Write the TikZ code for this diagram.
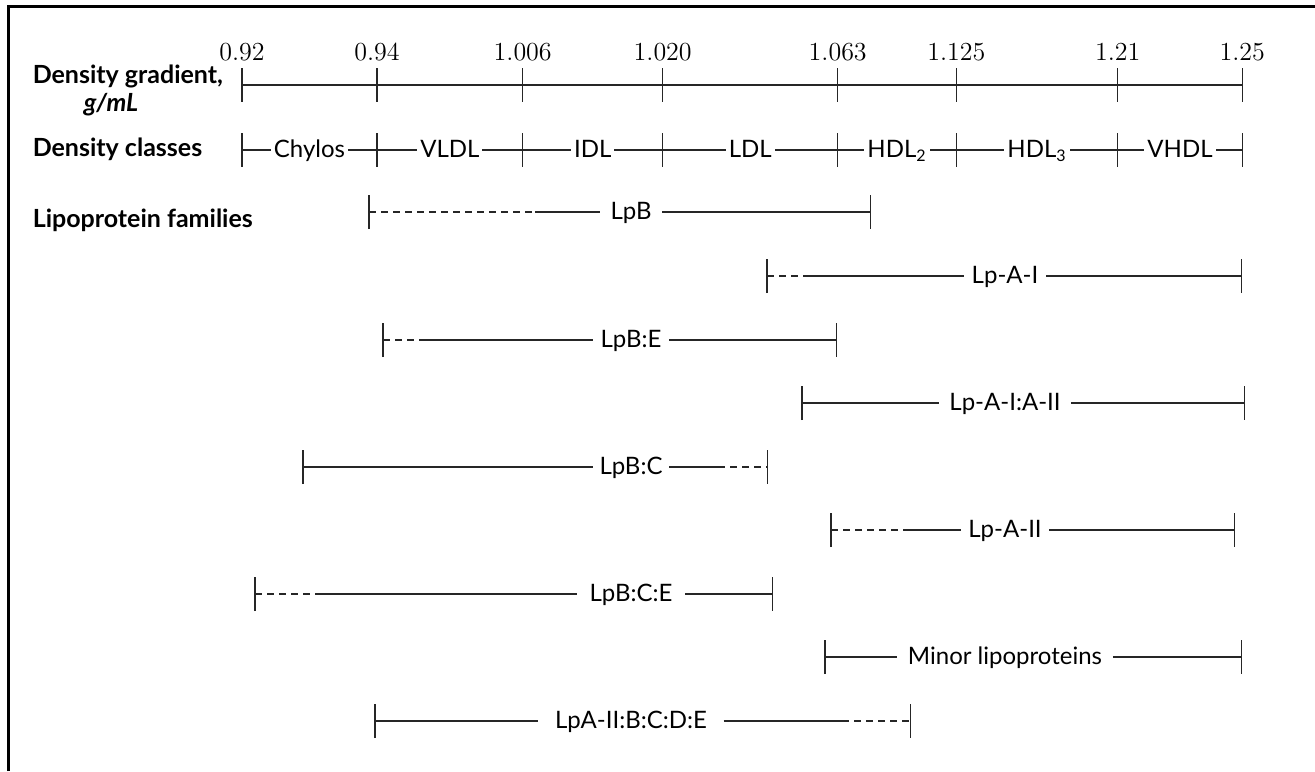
\documentclass[tikz,border=0pt]{standalone}
\usepackage{fontspec}
\newfontfamily\lato{Lato}
\usetikzlibrary{arrows.meta,positioning}

\begin{document}
\begin{tikzpicture}[x=0.5pt,y=-0.5pt,line width=0.75pt,draw=black!85,
 num/.style={anchor=base,inner sep=0pt,font=\fontsize{13}{15}\selectfont},
 head/.style={anchor=base west,inner sep=0pt,font=\lato\bfseries\fontsize{12.5}{15}\selectfont},
 cls/.style={fill=white,inner xsep=1.5pt,inner ysep=0pt,text height=7.5pt,text depth=0pt,font=\lato\fontsize{12}{14}\selectfont},
 fam/.style={cls,fill=none,inner xsep=5pt},
 dsh/.style={dash pattern=on 3.5pt off 2.5pt},
 lbar/.style={{Bar[width=17pt]}-},
 rbar/.style={-{Bar[width=17pt]}}]
\useasboundingbox (0,0) rectangle (1315,771);
\draw[line width=1.4pt,black] (8.7,771) -- (8.7,6.7) -- (1315,6.7);

% row headings
\node[head] (grad) at (32,83) {Density gradient,};
\node[head,font=\lato\bfseries\itshape\fontsize{12.5}{15}\selectfont] (unit) at (83,111) {g/mL};
\node[head] (clshd) at (32,156) {Density classes};
\node[head] (famhd) at (32,227) {Lipoprotein families};

% density scale and classes
\foreach \x/\v [count=\i] in {242/0.92,377/0.94,522.7/1.006,662.7/1.020,837.7/1.063,956.3/1.125,1117.7/1.21,1242.3/1.25}{
  \coordinate (g\i) at (\x,85);
  \coordinate (c\i) at (\x,150);
  \draw (\x,68) -- (\x,102) (\x,133) -- (\x,167);
  \node[num] (v\i) at (\x,60) {\v};
}
\draw (g1) -- (g8);
\foreach \a/\b/\t in {1/2/Chylos,2/3/VLDL,3/4/IDL,4/5/LDL,5/6/HDL\textsubscript{2},6/7/HDL\textsubscript{3},7/8/VHDL}
  \draw (c\a) -- node[cls] (cl\a) {\t} (c\b);

% LpB
\coordinate (lpbL) at (368,212); \coordinate (lpbD) at (535,212); \coordinate (lpbR) at (871,212);
\node[fam] (lpb) at (631,212) {LpB};
\draw[dsh,lbar] (lpbL) -- (lpbD);
\draw (lpbD) -- (lpb);
\draw[rbar] (lpb) -- (lpbR);

% Lp-A-I
\coordinate (lpaiL) at (766,276); \coordinate (lpaiD) at (808,276); \coordinate (lpaiR) at (1242,276);
\node[fam,inner xsep=3.5pt] (lpai) at (1005,276) {Lp-A-I};
\draw[dsh,lbar] (lpaiL) -- (lpaiD);
\draw (lpaiD) -- (lpai);
\draw[rbar] (lpai) -- (lpaiR);

% LpB:E
\coordinate (lpbeL) at (382,340); \coordinate (lpbeD) at (424,340); \coordinate (lpbeR) at (837,340);
\node[fam,inner xsep=3.5pt] (lpbe) at (631,340) {LpB:E};
\draw[dsh,lbar] (lpbeL) -- (lpbeD);
\draw (lpbeD) -- (lpbe);
\draw[rbar] (lpbe) -- (lpbeR);

% Lp-A-I:A-II
\coordinate (lpaiaiiL) at (801,403); \coordinate (lpaiaiiR) at (1245,403);
\node[fam] (lpaiaii) at (1005,403) {Lp-A-I:A-II};
\draw[lbar] (lpaiaiiL) -- (lpaiaii);
\draw[rbar] (lpaiaii) -- (lpaiaiiR);

% LpB:C
\coordinate (lpbcL) at (302,467); \coordinate (lpbcD) at (718,467); \coordinate (lpbcR) at (768,467);
\node[fam,inner xsep=3pt] (lpbc) at (631,467) {LpB:C};
\draw[lbar] (lpbcL) -- (lpbc);
\draw (lpbc) -- (lpbcD);
\draw[dsh,rbar] (lpbcD) -- (lpbcR);

% Lp-A-II
\coordinate (lpaiiL) at (830,530); \coordinate (lpaiiD) at (905,530); \coordinate (lpaiiR) at (1235,530);
\node[fam,inner xsep=3.5pt] (lpaii) at (1005,530) {Lp-A-II};
\draw[dsh,lbar] (lpaiiL) -- (lpaiiD);
\draw (lpaiiD) -- (lpaii);
\draw[rbar] (lpaii) -- (lpaiiR);

% LpB:C:E
\coordinate (lpbceL) at (254,594); \coordinate (lpbceD) at (318,594); \coordinate (lpbceR) at (773,594);
\node[fam,inner xsep=6pt] (lpbce) at (631,594) {LpB:C:E};
\draw[dsh,lbar] (lpbceL) -- (lpbceD);
\draw (lpbceD) -- (lpbce);
\draw[rbar] (lpbce) -- (lpbceR);

% minor lipoproteins
\coordinate (minorL) at (824,657); \coordinate (minorR) at (1242,657);
\node[fam] (minor) at (1005,657) {Minor lipoproteins};
\draw[lbar] (minorL) -- (minor);
\draw[rbar] (minor) -- (minorR);

% LpA-II:B:C:D:E
\coordinate (lpallL) at (374,721); \coordinate (lpallD) at (842,721); \coordinate (lpallR) at (911,721);
\node[fam,inner xsep=8pt] (lpall) at (631,721) {LpA-II:B:C:D:E};
\draw[lbar] (lpallL) -- (lpall);
\draw (lpall) -- (lpallD);
\draw[dsh,rbar] (lpallD) -- (lpallR);
\end{tikzpicture}
\end{document}
